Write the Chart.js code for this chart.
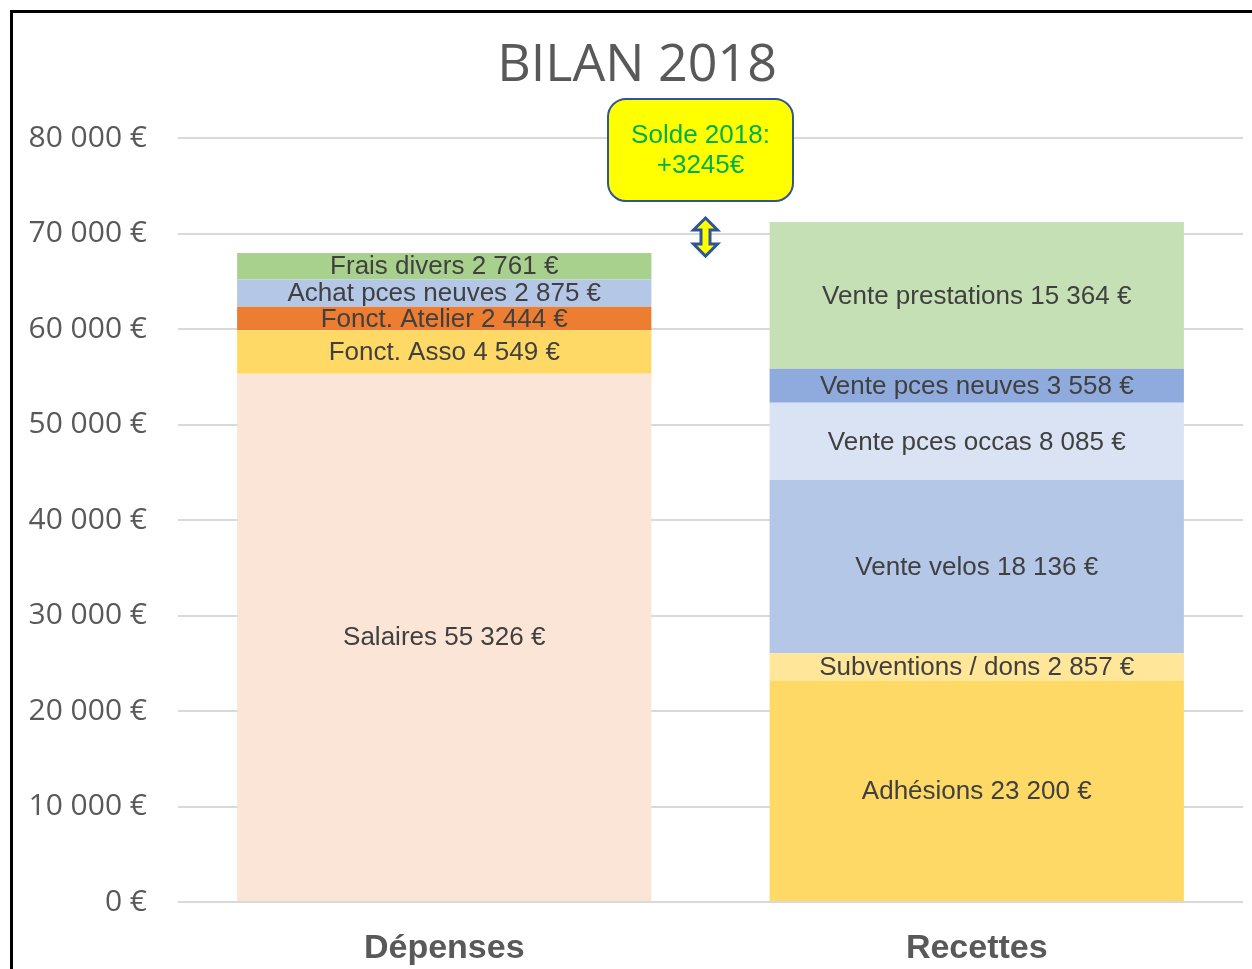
<!DOCTYPE html>
<html>
<head>
<meta charset="utf-8">
<title>Bilan 2018</title>
<script src="https://cdn.jsdelivr.net/npm/chart.js@4.4.1/dist/chart.umd.min.js"></script>
<style>
  html, body { margin: 0; padding: 0; background: #fff; }
  #wrap { position: relative; width: 1252px; height: 969px; }
  #frame {
    position: absolute; left: 10px; top: 10px; right: 0; bottom: 0;
    border-left: 3px solid #000; border-top: 3px solid #000;
    pointer-events: none;
  }
</style>
</head>
<body>
<div id="wrap">
  <canvas id="bilan-chart" width="1252" height="969"></canvas>
  <div id="frame"></div>
</div>
<script>
var categories = ['Dépenses', 'Recettes'];

var depensesLabels = ['Salaires', 'Fonct. Asso', 'Fonct. Atelier', 'Achat pces neuves', 'Frais divers'];
var depensesValues = [55326, 4549, 2444, 2875, 2761];
var depensesColors = ['#FBE5D6', '#FFD966', '#ED7D31', '#B4C7E7', '#A9D18E'];

var recettesLabels = ['Adhésions', 'Subventions / dons', 'Vente velos', 'Vente pces occas', 'Vente pces neuves', 'Vente prestations'];
var recettesValues = [23200, 2857, 18136, 8085, 3558, 15364];
var recettesColors = ['#FFD966', '#FFE699', '#B4C7E7', '#DAE3F3', '#8FAADC', '#C5E0B4'];

var yMax = 80000;
var yStep = 10000;

function euros(v) {
  return String(v).replace(/\B(?=(\d{3})+(?!\d))/g, ' ') + ' €';
}

function sum(arr) {
  return arr.reduce(function(a, b) { return a + b; }, 0);
}

var depTotal = sum(depensesValues);
var recTotal = sum(recettesValues);

var datasets = [];
depensesLabels.forEach(function(name, i) {
  datasets.push({ label: name, data: [depensesValues[i], null], backgroundColor: depensesColors[i] });
});
recettesLabels.forEach(function(name, i) {
  datasets.push({ label: name, data: [null, recettesValues[i]], backgroundColor: recettesColors[i] });
});

// labels inside the segments + title + solde callout
var extras = {
  id: 'extras',
  afterDatasetsDraw: function(chart) {
    var ctx = chart.ctx;
    ctx.save();
    ctx.font = '26px "Liberation Sans", Arial, sans-serif';
    ctx.fillStyle = '#404040';
    ctx.textAlign = 'center';
    ctx.textBaseline = 'middle';
    chart.data.datasets.forEach(function(ds, di) {
      var meta = chart.getDatasetMeta(di);
      ds.data.forEach(function(v, i) {
        if (v == null) return;
        var bar = meta.data[i];
        ctx.fillText(ds.label + ' ' + euros(v), bar.x, (bar.y + bar.base) / 2 + 1);
      });
    });

    // title
    ctx.font = '52px "Open Sans", sans-serif';
    ctx.fillStyle = '#595959';
    ctx.fillText('BILAN 2018', 637, 66);

    // arrow between the two totals
    var xs = chart.scales.x, ys = chart.scales.y;
    var ax = (xs.getPixelForValue(0) + xs.getPixelForValue(1)) / 2 - 5;
    var top = ys.getPixelForValue(recTotal) - 4;
    var bot = ys.getPixelForValue(depTotal) + 3;
    var hw = 12, hh = 12, sw = 4.5;
    ctx.beginPath();
    ctx.moveTo(ax, top);
    ctx.lineTo(ax + hw, top + hh);
    ctx.lineTo(ax + sw, top + hh);
    ctx.lineTo(ax + sw, bot - hh);
    ctx.lineTo(ax + hw, bot - hh);
    ctx.lineTo(ax, bot);
    ctx.lineTo(ax - hw, bot - hh);
    ctx.lineTo(ax - sw, bot - hh);
    ctx.lineTo(ax - sw, top + hh);
    ctx.lineTo(ax - hw, top + hh);
    ctx.closePath();
    ctx.fillStyle = '#FFFF00';
    ctx.fill();
    ctx.lineWidth = 3;
    ctx.strokeStyle = '#2F5597';
    ctx.lineJoin = 'miter';
    ctx.stroke();

    // callout box
    var bx = 608, by = 99, bw = 185, bh = 102;
    ctx.beginPath();
    ctx.roundRect(bx, by, bw, bh, 18);
    ctx.fillStyle = '#FFFF00';
    ctx.fill();
    ctx.lineWidth = 2;
    ctx.strokeStyle = '#2F5597';
    ctx.stroke();
    ctx.font = '26px "Liberation Sans", Arial, sans-serif';
    ctx.fillStyle = '#00B050';
    ctx.fillText('Solde 2018:', bx + bw / 2, 136);
    ctx.fillText('+' + (recTotal - depTotal) + '€', bx + bw / 2, 166);
    ctx.restore();
  }
};

var config = {
  type: 'bar',
  data: {
    labels: categories,
    datasets: datasets
  },
  options: {
    responsive: false,
    animation: false,
    devicePixelRatio: 1,
    layout: {
      padding: { top: 138, right: 9, bottom: 0, left: 0 }
    },
    datasets: {
      bar: { categoryPercentage: 1, barPercentage: 0.778, borderWidth: 0 }
    },
    plugins: {
      legend: { display: false },
      tooltip: { enabled: false },
      title: { display: false }
    },
    scales: {
      x: {
        stacked: true,
        grid: { display: false },
        border: { display: false },
        ticks: {
          color: '#595959',
          padding: 18,
          font: { family: '"Liberation Sans", Arial, sans-serif', size: 34, weight: 'bold' }
        },
        afterFit: function(scale) { scale.height = 67; }
      },
      y: {
        stacked: true,
        min: 0,
        max: yMax,
        grid: { color: '#D9D9D9', lineWidth: 2, drawTicks: false },
        border: { display: false },
        ticks: {
          stepSize: yStep,
          color: '#595959',
          padding: 31,
          font: { family: '"Open Sans", sans-serif', size: 30 },
          callback: function(v) { return euros(v); }
        },
        afterFit: function(scale) { scale.width = 178; }
      }
    }
  },
  plugins: [extras]
};

var ctx = document.getElementById('bilan-chart').getContext('2d');
var bilanChart = new Chart(ctx, config);
</script>
</body>
</html>
